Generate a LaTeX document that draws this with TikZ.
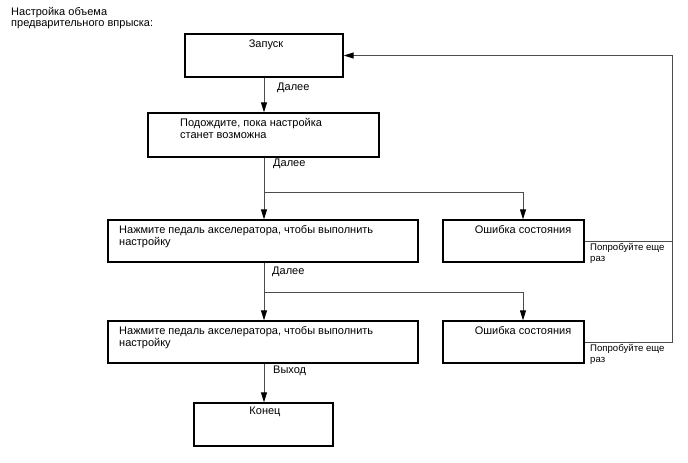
\documentclass[tikz,border=0pt]{standalone}
\usepackage{fontspec}
\setmainfont{Liberation Sans}
\usetikzlibrary{arrows.meta}
\begin{document}
\begin{tikzpicture}[x=1pt,y=-1pt,
  box/.style={draw=black, line width=1.3pt, inner sep=0pt},
  conn/.style={draw=black!70, line width=0.9pt},
  arr/.style={conn,-{Triangle[width=6pt,length=10pt,color=black]}},
  txt/.style={font=\fontsize{11}{13}\selectfont, inner sep=0pt, anchor=base west},
  ctxt/.style={font=\fontsize{11}{13}\selectfont, inner sep=0pt, anchor=base},
  small/.style={font=\fontsize{9.6}{11}\selectfont, inner sep=0pt, anchor=base west}]
\useasboundingbox (0,0) rectangle (688,463);

% boxes
\node[box, minimum width=158pt, minimum height=43pt] (b1) at (264,55.5) {};
\node[box, minimum width=231pt, minimum height=44pt] (b2) at (263.5,135) {};
\node[box, minimum width=310pt, minimum height=42pt] (b3) at (263,241) {};
\node[box, minimum width=141pt, minimum height=42pt] (b4) at (513.5,241) {};
\node[box, minimum width=310pt, minimum height=42pt] (b5) at (263,342) {};
\node[box, minimum width=141pt, minimum height=42pt] (b6) at (513.5,342) {};
\node[box, minimum width=139pt, minimum height=43pt] (b7) at (263.5,424.5) {};

% title
\node[txt] (t1) at (11,15) {Настройка объема};
\node[txt] (t2) at (11,27) {предварительного впрыска:};

% box texts
\node[ctxt] (l1) at (266,47) {Запуск};
\node[txt] (l2a) at (180,126) {Подождите, пока настройка};
\node[txt] (l2b) at (180,138) {станет возможна};
\node[txt] (l3a) at (119,233) {Нажмите педаль акселератора, чтобы выполнить};
\node[txt] (l3b) at (119,245) {настройку};
\node[ctxt] (l4) at (523,233) {Ошибка состояния};
\node[txt] (l5a) at (119,334) {Нажмите педаль акселератора, чтобы выполнить};
\node[txt] (l5b) at (119,346) {настройку};
\node[ctxt] (l6) at (523,334) {Ошибка состояния};
\node[ctxt] (l7) at (265,414) {Конец};

% coordinates
\coordinate (c) at (264,0);
\coordinate (j1) at (264,192);
\coordinate (e1) at (523,192);
\coordinate (j2) at (264,292);
\coordinate (e2) at (523,292);
\coordinate (r) at (672,0);

% connectors
\draw[arr] (b1.south -| c) -- (b2.north -| c);
\draw[arr] (b2.south -| c) -- (b3.north -| c);
\draw[arr] (j1) -- (e1) -- (e1 |- b4.north);
\draw[arr] (b3.south -| c) -- (b5.north -| c);
\draw[arr] (j2) -- (e2) -- (e2 |- b6.north);
\draw[arr] (b5.south -| c) -- (b7.north -| c);
\draw[arr] (b4.east) -- (b4.east -| r) -- (r |- b1.east) -- (b1.east);
\draw[conn] (b6.east) -- (b6.east -| r) -- (r |- b4.east);

% connector labels
\node[txt] (d1) at (277,90) {Далее};
\node[txt] (d2) at (273,166) {Далее};
\node[txt] (d3) at (272,274) {Далее};
\node[txt] (d4) at (273,373) {Выход};
\node[small] (p1) at (590,250) {Попробуйте еще};
\node[small] (p1b) at (590,261) {раз};
\node[small] (p2) at (590,351) {Попробуйте еще};
\node[small] (p2b) at (590,362) {раз};
\end{tikzpicture}
\end{document}
